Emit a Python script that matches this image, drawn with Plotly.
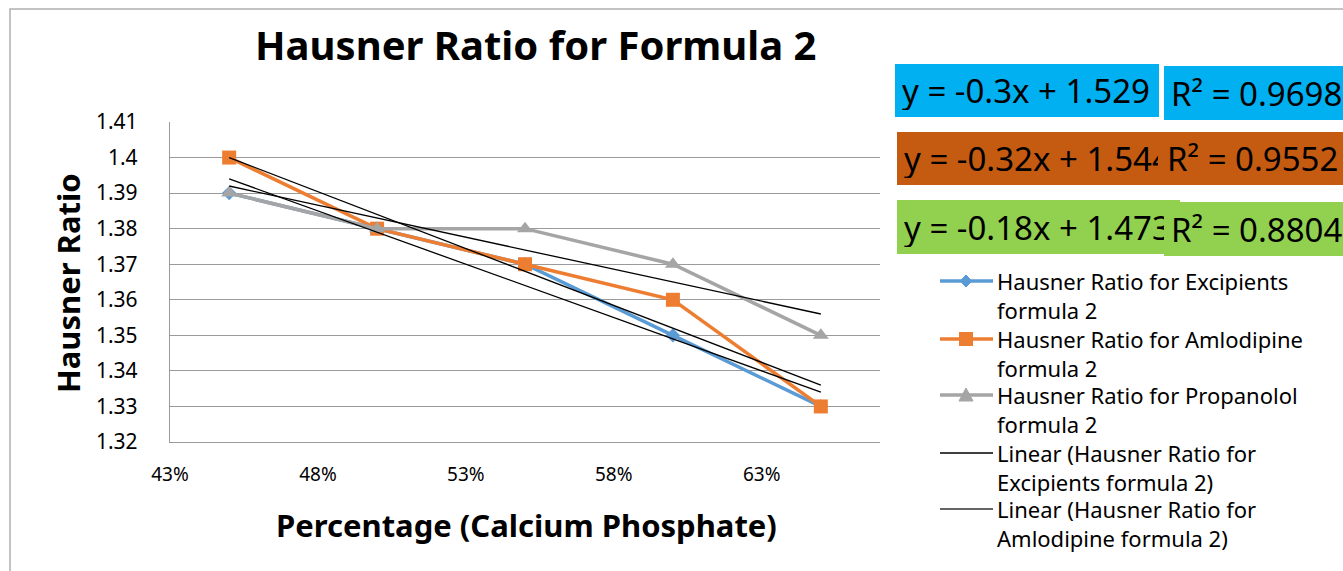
import numpy as np
import plotly.graph_objects as go

# ---------------- data ----------------
x_pct = [0.45, 0.50, 0.55, 0.60, 0.65]
excipients = [1.39, 1.38, 1.37, 1.35, 1.33]
amlodipine = [1.40, 1.38, 1.37, 1.36, 1.33]
propanolol = [1.39, 1.38, 1.38, 1.37, 1.35]

series_names = [
    "Hausner Ratio for Excipients formula 2",
    "Hausner Ratio for Amlodipine formula 2",
    "Hausner Ratio for Propanolol formula 2",
]
trend_names = [
    "Linear (Hausner Ratio for Excipients formula 2)",
    "Linear (Hausner Ratio for Amlodipine formula 2)",
    "Linear (Hausner Ratio for Propanolol formula 2)",
]
legend_texts = [
    "Hausner Ratio for Excipients<br>formula 2",
    "Hausner Ratio for Amlodipine<br>formula 2",
    "Hausner Ratio for Propanolol<br>formula 2",
    "Linear (Hausner Ratio for<br>Excipients formula 2)",
    "Linear (Hausner Ratio for<br>Amlodipine formula 2)",
]
x_tick_vals = [0.43, 0.48, 0.53, 0.58, 0.63]
x_tick_text = ["43%", "48%", "53%", "58%", "63%"]
y_tick_vals = [1.32, 1.33, 1.34, 1.35, 1.36, 1.37, 1.38, 1.39, 1.40, 1.41]
y_tick_text = ["1.32", "1.33", "1.34", "1.35", "1.36", "1.37", "1.38", "1.39", "1.4", "1.41"]
eq_texts = ["y = -0.3x + 1.529", "y = -0.32x + 1.544", "y = -0.18x + 1.473"]
r2_texts = ["R² = 0.9698", "R² = 0.9552", "R² = 0.8804"]

# ---------------- geometry (page pixel coords) ----------------
W, H = 1343, 571
PL, PR, PT, PB = 170, 880, 122, 442  # plot area, page px
FONT = "Noto Sans"

def px_x(px):
    return (px - PL) / (PR - PL)

def px_y(py):
    return 1 - (py - PT) / (PB - PT)

colors = ["#5B9BD5", "#ED7D31", "#A5A5A5"]
symbols = ["diamond", "square", "triangle-up"]
msizes = [11, 14, 14]
eq_colors = ["#00B0F0", "#C55A11", "#92D050"]

fig = go.Figure()
all_series = [excipients, amlodipine, propanolol]
for ys, name, c, s, ms in zip(all_series, series_names, colors, symbols, msizes):
    fig.add_trace(go.Scatter(
        x=x_pct, y=ys, name=name, mode="lines+markers",
        line=dict(color=c, width=3.5),
        marker=dict(symbol=s, size=ms, color=c),
        showlegend=False,
    ))

xa = np.array(x_pct)
for ys, name in zip(all_series, trend_names):
    slope, intercept = np.polyfit(xa, np.array(ys), 1)
    fig.add_trace(go.Scatter(
        x=[xa.min(), xa.max()], y=[slope * xa.min() + intercept, slope * xa.max() + intercept],
        name=name, mode="lines", line=dict(color="#000000", width=1.3),
        showlegend=False,
    ))

annotations = []
shapes = []

def text_ann(txt, x, y, size, bold=False, angle=0, xanchor="center", yanchor="middle"):
    annotations.append(dict(text=f"<b>{txt}</b>" if bold else txt, x=px_x(x), y=px_y(y),
                            xref="paper", yref="paper", showarrow=False, textangle=angle,
                            xanchor=xanchor, yanchor=yanchor, borderpad=0, borderwidth=0,
                            align="left",
                            font=dict(family=FONT, size=size, color="#000")))

# titles
text_ann("Hausner Ratio for Formula 2", 535, 45, 40, bold=True)
text_ann("Hausner Ratio", 68, 283, 31, bold=True, angle=-90)
text_ann("Percentage (Calcium Phosphate)", 526, 525, 31, bold=True)

# equation boxes: (left, top, right, bottom) in page px
eq_boxes = [(895, 64, 1159, 117), (897, 132, 1165, 185), (897, 200, 1180, 254)]
r2_boxes = [(1164, 66, 1360, 120), (1160, 132, 1360, 185), (1164, 202, 1360, 256)]
PAD = 7
for txts, boxes in ((eq_texts, eq_boxes), (r2_texts, r2_boxes)):
    for txt, box, col in zip(txts, boxes, eq_colors):
        l, t, r, b = box
        annotations.append(dict(text=txt, x=px_x(l), y=px_y(t), xref="paper", yref="paper",
                                xanchor="left", yanchor="top", showarrow=False, align="left",
                                width=r - l - 2 * PAD, height=b - t - 2 * PAD, bgcolor=col,
                                borderpad=PAD, borderwidth=0, valign="middle",
                                font=dict(family=FONT, size=33, color="#000")))

# legend (drawn manually to match the original's spacing)
leg_rows = [281, 339, 395, 453, 509]
leg_line_styles = [(colors[0], 3.5), (colors[1], 3.5), (colors[2], 3.5), ("#000000", 1.3), ("#303030", 1.3)]
for y1, txt, (lc, lw) in zip(leg_rows, legend_texts, leg_line_styles):
    shapes.append(dict(type="line", xref="paper", yref="paper",
                       x0=px_x(940), x1=px_x(993), y0=px_y(y1), y1=px_y(y1),
                       line=dict(color=lc, width=lw)))
    text_ann(txt, 997, y1 - 15, 22, xanchor="left", yanchor="top")

# legend marker glyphs
cx = 966
y0 = leg_rows[0]
shapes.append(dict(type="path", xref="paper", yref="paper",
                   path=f"M{px_x(cx-6)},{px_y(y0)} L{px_x(cx)},{px_y(y0-6)} L{px_x(cx+6)},{px_y(y0)} L{px_x(cx)},{px_y(y0+6)} Z",
                   fillcolor=colors[0], line=dict(color=colors[0], width=1)))
y0 = leg_rows[1]
shapes.append(dict(type="rect", xref="paper", yref="paper",
                   x0=px_x(cx-7), x1=px_x(cx+7), y0=px_y(y0-7), y1=px_y(y0+7),
                   fillcolor=colors[1], line=dict(color=colors[1], width=0)))
y0 = leg_rows[2]
shapes.append(dict(type="path", xref="paper", yref="paper",
                   path=f"M{px_x(cx-7)},{px_y(y0+6)} L{px_x(cx)},{px_y(y0-7)} L{px_x(cx+7)},{px_y(y0+6)} Z",
                   fillcolor=colors[2], line=dict(color=colors[2], width=1)))

# outer chart border
shapes.append(dict(type="rect", xref="paper", yref="paper",
                   x0=px_x(10), x1=px_x(1380), y0=px_y(600), y1=px_y(9),
                   line=dict(color="#B0B0B0", width=1.5), fillcolor="rgba(0,0,0,0)", layer="below"))

fig.update_layout(
    width=W, height=H,
    margin=dict(l=PL, r=W - PR, t=PT, b=H - PB, pad=0, autoexpand=False),
    paper_bgcolor="white", plot_bgcolor="white",
    font=dict(family=FONT, size=20, color="#000"),
    showlegend=False,
    annotations=annotations,
    shapes=shapes,
    xaxis=dict(range=[0.43, 0.67], tickvals=x_tick_vals, ticktext=x_tick_text,
               showgrid=False, zeroline=False, showline=True, linecolor="#9A9A9A", linewidth=1.3,
               ticks="", ticklabelstandoff=15, tickfont=dict(family=FONT, size=19, color="#000")),
    yaxis=dict(range=[1.32, 1.41], tickvals=y_tick_vals, ticktext=y_tick_text,
               showgrid=True, gridcolor="#9A9A9A", gridwidth=1.3, zeroline=False,
               showline=True, linecolor="#9A9A9A", linewidth=1.3,
               ticks="", ticklabelstandoff=27, tickfont=dict(family=FONT, size=21, color="#000")),
)

fig.write_html("out.html", config={"displayModeBar": False},
               post_script="document.body.style.margin='0';document.body.style.overflow='hidden';")
